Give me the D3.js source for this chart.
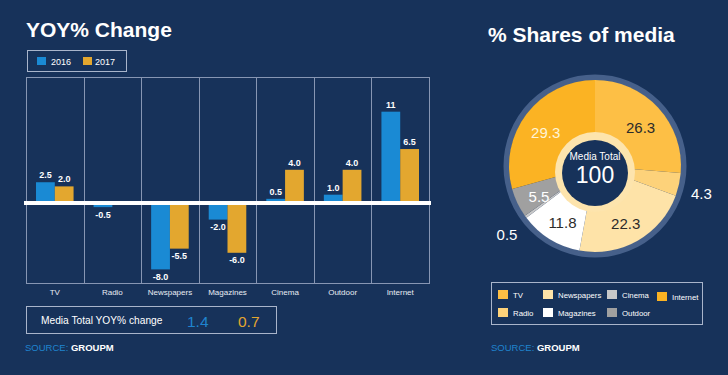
<!DOCTYPE html>
<html>
<head>
<meta charset="utf-8">
<script src="https://cdn.jsdelivr.net/npm/d3@7"></script>
<style>
  html, body { margin: 0; padding: 0; background: #17325a; }
  svg { display: block; font-family: "Liberation Sans", Arial, Helvetica, sans-serif; }
</style>
</head>
<body>
<svg id="chart" width="728" height="375"></svg>
<script>
// ---------- DATA ----------
const categories = ["TV", "Radio", "Newspapers", "Magazines", "Cinema", "Outdoor", "Internet"];
const series = ["2016", "2017"];
const yoy2016 = [2.5, -0.5, -8.0, -2.0, 0.5, 1.0, 11];
const yoy2017 = [2.0, null, -5.5, -6.0, 4.0, 4.0, 6.5];
const labels2016 = ["2.5", "-0.5", "-8.0", "-2.0", "0.5", "1.0", "11"];
const labels2017 = ["2.0", "", "-5.5", "-6.0", "4.0", "4.0", "6.5"];
const totalYoy = ["1.4", "0.7"];

const shareMedia = ["TV", "Radio", "Newspapers", "Magazines", "Cinema", "Outdoor", "Internet"];
const shareValues = [26.3, 4.3, 22.3, 11.8, 0.5, 5.5, 29.3];
const shareLabels = ["26.3", "4.3", "22.3", "11.8", "0.5", "5.5", "29.3"];
const mediaTotal = "100";

// ---------- STYLE ----------
const BG = "#17325a";
const BLUE = "#1a8ad4";
const ORANGE = "#e3a72f";
const GRID = "#8796b3";
const sliceColors = ["#fdbf45", "#fdd27a", "#fee3a8", "#ffffff", "#c8c8c8", "#a0a0a0", "#fbb323"];
const labelColors = ["#2b2b2b", "#ffffff", "#2b2b2b", "#2b2b2b", "#ffffff", "#ffffff", "#fff4d6"];
const outside = [false, true, false, false, true, false, false];

const svg = d3.select("#chart");
svg.append("rect").attr("width", 728).attr("height", 375).attr("fill", BG);

// ---------- LEFT: YOY% Change ----------
svg.append("text").attr("x", 26).attr("y", 37)
  .attr("fill", "#fff").attr("font-size", 21).attr("font-weight", "bold")
  .text("YOY% Change");

// legend
const lg = svg.append("g");
lg.append("rect").attr("x", 27.5).attr("y", 50.5).attr("width", 99).attr("height", 21)
  .attr("fill", "none").attr("stroke", "#a9b5cb").attr("stroke-width", 1);
[[BLUE, 37, "2016", 51], [ORANGE, 83, "2017", 95]].forEach(([c, x, t, tx]) => {
  lg.append("rect").attr("x", x).attr("y", 57).attr("width", 9).attr("height", 8).attr("fill", c);
  lg.append("text").attr("x", tx).attr("y", 65).attr("fill", "#fff").attr("font-size", 9).text(t);
});

const plotL = 26, plotR = 429, plotT = 77, plotB = 283;
const x = d3.scaleBand().domain(categories).range([plotL, plotR]).padding(0);
const bw = x.bandwidth();
const xs = d3.scaleBand().domain(series).range([10, bw - 10]).padding(0);
const y = d3.scaleLinear().domain([-9.64, 15.18]).range([plotB, plotT]);

// frame + column dividers
const g = svg.append("g");
g.append("rect").attr("x", plotL + 0.5).attr("y", plotT + 0.5)
  .attr("width", plotR - plotL).attr("height", plotB - plotT)
  .attr("fill", "none").attr("stroke", GRID).attr("stroke-width", 1);
g.selectAll("line.div").data(categories.slice(1)).join("line")
  .attr("x1", d => Math.round(x(d)) + 0.5).attr("x2", d => Math.round(x(d)) + 0.5)
  .attr("y1", plotT).attr("y2", plotB).attr("stroke", GRID).attr("stroke-width", 1);

const barData = [];
categories.forEach((c, i) => {
  barData.push({ c, s: "2016", v: yoy2016[i], l: labels2016[i], col: BLUE });
  barData.push({ c, s: "2017", v: yoy2017[i], l: labels2017[i], col: ORANGE });
});
const valid = barData.filter(d => d.v !== null);

g.selectAll("rect.bar").data(valid).join("rect")
  .attr("x", d => x(d.c) + xs(d.s))
  .attr("width", xs.bandwidth())
  .attr("y", d => y(Math.max(0, d.v)))
  .attr("height", d => Math.abs(y(d.v) - y(0)))
  .attr("fill", d => d.col);

g.selectAll("text.bl").data(valid).join("text")
  .attr("x", d => x(d.c) + xs(d.s) + xs.bandwidth() / 2)
  .attr("y", d => d.v >= 0 ? y(d.v) - 4 : y(d.v) + 10.5)
  .attr("text-anchor", "middle").attr("fill", "#fff")
  .attr("font-size", 9).attr("font-weight", "bold")
  .text(d => d.l);

// zero line
g.append("line").attr("x1", 24).attr("x2", 431).attr("y1", y(0)).attr("y2", y(0))
  .attr("stroke", "#fff").attr("stroke-width", 4);

// category axis labels
const xAxis = d3.axisBottom(x).tickSize(0).tickPadding(0);
const ax = svg.append("g").attr("transform", `translate(0,${plotB + 12})`).call(xAxis);
ax.select(".domain").remove();
ax.selectAll("text").attr("fill", "#e8ecf4").attr("font-size", 8)
  .attr("font-family", "\"Liberation Sans\", Arial, sans-serif").attr("dy", 0);

// total box
svg.append("rect").attr("x", 26.5).attr("y", 306.5).attr("width", 250).attr("height", 27)
  .attr("fill", "none").attr("stroke", "#a9b5cb").attr("stroke-width", 1);
svg.append("text").attr("x", 41).attr("y", 324).attr("fill", "#fff").attr("font-size", 10.2)
  .text("Media Total YOY% change");
svg.append("text").attr("x", 187).attr("y", 327).attr("fill", "#1f84cf").attr("font-size", 15.5)
  .text(totalYoy[0]);
svg.append("text").attr("x", 238).attr("y", 327).attr("fill", ORANGE).attr("font-size", 15.5)
  .text(totalYoy[1]);

function source(xp) {
  const t = svg.append("text").attr("x", xp).attr("y", 351).attr("font-size", 9.5);
  t.append("tspan").attr("fill", "#1f84cf").text("SOURCE: ");
  t.append("tspan").attr("fill", "#fff").attr("font-weight", "bold").text("GROUPM");
}
source(25);

// ---------- RIGHT: % Shares of media ----------
svg.append("text").attr("x", 488).attr("y", 42)
  .attr("fill", "#fff").attr("font-size", 21).attr("font-weight", "bold")
  .text("% Shares of media");

const cx = 595, cy = 166;
const pg = svg.append("g").attr("transform", `translate(${cx},${cy})`);
pg.append("circle").attr("r", 88.5).attr("fill", "none").attr("stroke", "#46608a").attr("stroke-width", 6);

const pie = d3.pie().sort(null).value(d => d)(shareValues);
const arc = d3.arc().innerRadius(0).outerRadius(86);
const labelArc = d3.arc().innerRadius(62).outerRadius(62);
const outArc = d3.arc().innerRadius(109).outerRadius(109);

pg.selectAll("path.sl").data(pie).join("path")
  .attr("d", arc).attr("fill", (d, i) => sliceColors[i]);

// center hole
pg.append("circle").attr("cx", 0).attr("cy", 6).attr("r", 40).attr("fill", "#fde4ad");
pg.append("circle").attr("cx", 0).attr("cy", 7).attr("r", 33).attr("fill", BG);
pg.append("text").attr("x", 0).attr("y", -6).attr("text-anchor", "middle")
  .attr("fill", "#fff").attr("font-size", 10).text("Media Total");
pg.append("text").attr("x", 0).attr("y", 17).attr("text-anchor", "middle")
  .attr("fill", "#fff").attr("font-size", 23).text(mediaTotal);

pg.selectAll("text.pl").data(pie).join("text")
  .attr("transform", (d, i) => {
    const p = outside[i] ? outArc.centroid(d) : labelArc.centroid(d);
    return `translate(${p[0]},${p[1] + 4})`;
  })
  .attr("text-anchor", "middle").attr("dominant-baseline", "central")
  .attr("fill", (d, i) => labelColors[i]).attr("font-size", 15)
  .text((d, i) => shareLabels[i]);

// pie legend
const pl = svg.append("g");
pl.append("rect").attr("x", 491.5).attr("y", 282.5).attr("width", 211).attr("height", 42)
  .attr("fill", "none").attr("stroke", "#a9b5cb").attr("stroke-width", 1);
const legPos = [[498, 290], [498, 308], [543, 290], [543, 308], [607, 290], [607, 308], [657, 292]];
shareMedia.forEach((m, i) => {
  const [lx, ly] = legPos[i];
  pl.append("rect").attr("x", lx).attr("y", ly).attr("width", 10).attr("height", 9).attr("fill", sliceColors[i]);
  pl.append("text").attr("x", lx + 15).attr("y", ly + 7.5).attr("fill", "#fff").attr("font-size", 7.8).text(m);
});
source(491);
</script>
</body>
</html>
